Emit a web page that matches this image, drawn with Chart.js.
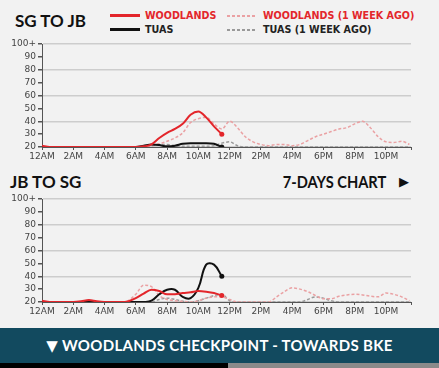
<!DOCTYPE html>
<html>
<head>
<meta charset="utf-8">
<script src="https://cdn.jsdelivr.net/npm/chart.js@4.4.1/dist/chart.umd.min.js"></script>
<style>
  html, body { margin: 0; padding: 0; }
  body {
    width: 439px; height: 368px; overflow: hidden; position: relative;
    background: #f2f2f2; font-family: Lato, "DejaVu Sans", sans-serif;
  }
  .abs { position: absolute; white-space: nowrap; }
  .title { font-weight: 700; font-size: 17px; color: #111; line-height: 17px; }
  .leg { font-family: "DejaVu Sans", sans-serif; font-weight: 700; font-size: 9.6px; line-height: 10px; }
  .red { color: #e3262b; }
  .dark { color: #222; }
  .solid { height: 3px; width: 30px; }
  .dash { height: 2px; width: 28px; }
  .bar {
    left: 0; top: 328px; width: 439px; height: 35px; background: #124a5f;
    color: #fff; font-size: 15px; font-weight: 700; text-align: center;
    line-height: 35px; letter-spacing: 0.3px;
  }
</style>
</head>
<body>
<div class="abs title" style="left:15px; top:12px;">SG TO JB</div>

<!-- legend -->
<div class="abs solid" style="left:110px; top:14px; background:#e3262b;"></div>
<div class="abs leg red" style="left:145px; top:11px;">WOODLANDS</div>
<div class="abs dash" style="left:227px; top:15px; background:repeating-linear-gradient(90deg,#eaa1a3 0 3px,transparent 3px 5px);"></div>
<div class="abs leg red" style="left:263px; top:11px;">WOODLANDS (1 WEEK AGO)</div>
<div class="abs solid" style="left:110px; top:28px; background:#111;"></div>
<div class="abs leg dark" style="left:145px; top:25px;">TUAS</div>
<div class="abs dash" style="left:227px; top:29px; background:repeating-linear-gradient(90deg,#999 0 3px,transparent 3px 5px);"></div>
<div class="abs leg dark" style="left:263px; top:25px;">TUAS (1 WEEK AGO)</div>

<div class="abs" style="left:0; top:36px;"><canvas id="sgChart" width="439" height="128"></canvas></div>

<div class="abs title" style="left:10px; top:173px;">JB TO SG</div>
<div class="abs title" style="right:53px; top:173px; transform:scaleX(0.86); transform-origin:right center;">7-DAYS CHART</div>
<div class="abs" style="left:399px; top:174px; font-size:13px; line-height:15px; color:#111;">&#9654;</div>

<div class="abs" style="left:0; top:191px;"><canvas id="jbChart" width="439" height="128"></canvas></div>

<div class="abs bar">&#9660; WOODLANDS CHECKPOINT - TOWARDS BKE</div>
<div class="abs" style="left:0; top:363px; width:228px; height:5px; background:#000;"></div>
<div class="abs" style="left:228px; top:363px; width:211px; height:5px; background:#8a8a8a;"></div>

<script>
// half-hour slots, 12AM .. 11:30PM
const hours = [0, 0.5, 1, 1.5, 2, 2.5, 3, 3.5, 4, 4.5, 5, 5.5, 6, 6.5, 7, 7.5, 8, 8.5, 9, 9.5,
  10, 10.5, 11, 11.5, 12, 12.5, 13, 13.5, 14, 14.5, 15, 15.5, 16, 16.5, 17, 17.5, 18, 18.5, 19, 19.5,
  20, 20.5, 21, 21.5, 22, 22.5, 23, 23.5];

const xTickHours = [0, 2, 4, 6, 8, 10, 12, 14, 16, 18, 20, 22, 23.6];
const xTickLabels = ['12AM', '2AM', '4AM', '6AM', '8AM', '10AM', '12PM', '2PM', '4PM', '6PM', '8PM', '10PM', ''];

// SG -> JB (minutes)
const sgWoodlands = [21, 20, 20, 20, 20, 20, 20, 20, 20, 20, 20, 20, 20, 20.5, 22, 27, 31, 34, 38, 45,
  47.5, 43, 36, 30];
const sgTuas = [20, 20, 20, 20, 20, 20, 20, 20, 20, 20, 20, 20, 20, 21, 22, 21.5, 20.5, 21, 22.5, 23,
  23, 23, 22.5, 20];
const sgWoodlandsWeek = [20, 20, 20, 20, 20, 20, 20, 20, 20, 20, 20, 20, 20, 20, 21, 22.5, 24.5, 27, 31, 39,
  42, 43, 38, 34, 40, 35, 28, 24, 22, 21, 22, 22, 21, 22, 25, 28, 30, 32, 34, 35,
  38, 40, 35, 28, 24, 23.5, 24.5, 22];
const sgTuasWeek = [20, 20, 20, 20, 20, 20, 20, 20, 20, 20, 20, 20, 20, 20, 21, 22, 22, 21, 20.5, 20.5,
  20.5, 20.5, 21, 23, 24, 21, 20, 20, 20, 20, 20, 20, 20, 20, 20, 20, 20, 20, 20, 20,
  20, 20, 20, 20, 20, 20, 20, 20];

// JB -> SG
const jbWoodlands = [21, 20, 20, 20, 20, 20.5, 21.5, 20.5, 20, 20, 20, 20.5, 23, 26.5, 29.5, 28.5, 26, 26, 27, 27.5,
  28.5, 28, 27, 25];
const jbTuas = [20, 20, 20, 20, 20, 20, 20, 20, 20, 20, 20, 20, 20, 20, 21, 26, 29.5, 29.5, 24, 23,
  31, 49, 49, 40];
const jbWoodlandsWeek = [20, 20, 20, 20, 20, 20, 20, 20, 20, 20, 20, 21, 26, 33, 32, 25, 22, 21, 20.5, 20,
  21, 23, 24, 24, 22, 20, 20, 20, 20, 20, 24, 28, 31, 30, 28, 25, 22.5, 22.5, 24.5, 25.5,
  26, 25.5, 24.5, 24, 27, 26, 24, 21];
const jbTuasWeek = [20, 20, 20, 20, 20, 20, 20, 20, 20, 20, 20, 20, 20, 20, 20, 22, 23, 22, 20.5, 20,
  21, 23, 25, 26, 21, 20, 20, 20, 20, 20, 20, 20, 20, 20, 22, 24, 23, 21, 20, 20,
  20, 20, 20, 20, 20, 20, 20, 20];

function toPoints(vals) {
  return vals.map((v, i) => ({ x: hours[i], y: v }));
}

function todayLine(vals, color) {
  return {
    data: toPoints(vals),
    borderColor: color,
    backgroundColor: color,
    borderWidth: 2,
    // only the latest reading gets a dot
    pointRadius: ctx => ctx.dataIndex === vals.length - 1 ? 2.5 : 0,
    pointBorderWidth: 0,
    order: 0
  };
}

function weekLine(vals, color) {
  return {
    data: toPoints(vals),
    borderColor: color,
    borderWidth: 1.5,
    borderDash: [3, 2],
    pointRadius: 0,
    order: 1
  };
}

function makeChart(id, woodlands, tuas, woodlandsWeek, tuasWeek, roundTuas) {
  const tickFont = { family: 'DejaVu Sans', size: 9 };
  const tuasLine = todayLine(tuas, '#111');
  if (roundTuas) {
    // the spike looks rounded, let it overshoot a bit
    tuasLine.cubicInterpolationMode = 'default';
    tuasLine.tension = 0.4;
  }
  return new Chart(document.getElementById(id), {
    type: 'line',
    data: {
      datasets: [
        todayLine(woodlands, '#e3262b'),
        tuasLine,
        weekLine(woodlandsWeek, '#eaa1a3'),
        weekLine(tuasWeek, '#9a9a9a')
      ]
    },
    options: {
      responsive: false,
      animation: false,
      devicePixelRatio: 1,
      cubicInterpolationMode: 'monotone',
      layout: { padding: { top: 8, right: 28, left: 0, bottom: 0 } },
      plugins: { legend: { display: false }, tooltip: { enabled: false } },
      scales: {
        x: {
          type: 'linear',
          min: 0,
          max: 23.6,
          afterBuildTicks: scale => { scale.ticks = xTickHours.map(v => ({ value: v })); },
          afterFit: scale => { scale.height = 17; },
          ticks: {
            autoSkip: false,
            maxRotation: 0,
            padding: 1,
            color: '#444',
            font: tickFont,
            callback: (v, i) => xTickLabels[i]
          },
          grid: { drawOnChartArea: false, tickColor: '#555', tickLength: 3 },
          border: { color: '#555', width: 1 }
        },
        y: {
          min: 20,
          max: 100,
          afterFit: scale => { scale.width = 42; },
          ticks: {
            stepSize: 10,
            autoSkip: false,
            padding: 2,
            color: '#444',
            font: tickFont,
            callback: v => v === 100 ? '100+' : v
          },
          grid: {
            color: ctx => (ctx.tick && ctx.tick.value % 20 === 0) ? '#cdcdcd' : 'rgba(0,0,0,0)',
            lineWidth: 1.5,
            tickColor: '#555',
            tickLength: 4
          },
          border: { color: '#555', width: 1 }
        }
      }
    }
  });
}

makeChart('sgChart', sgWoodlands, sgTuas, sgWoodlandsWeek, sgTuasWeek, false);
makeChart('jbChart', jbWoodlands, jbTuas, jbWoodlandsWeek, jbTuasWeek, true);
</script>
</body>
</html>
